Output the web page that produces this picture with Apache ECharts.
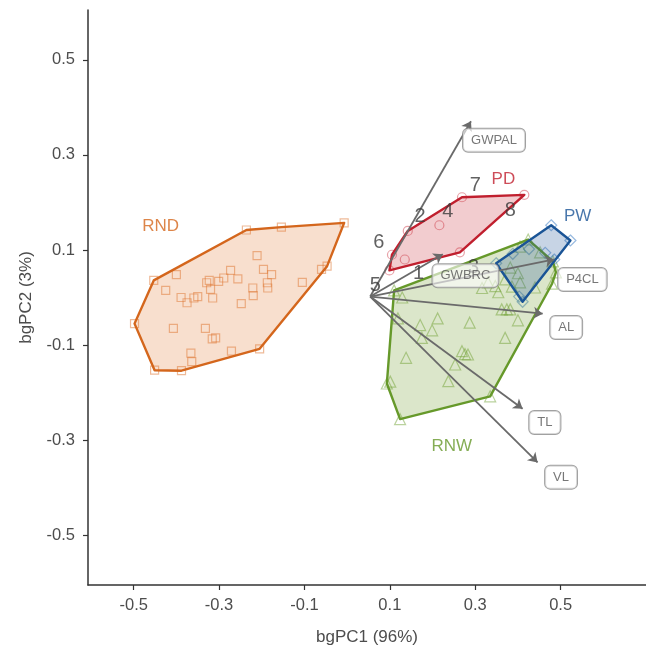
<!DOCTYPE html>
<html><head><meta charset="utf-8">
<script src="https://cdn.jsdelivr.net/npm/echarts@6/dist/echarts.min.js"></script>
<style>html,body{margin:0;padding:0;background:#fff}#c{width:646px;height:650px}</style>
</head><body><div id="c"></div>
<script>
// ---- data ----
const rndX = [-0.007,-0.154,-0.236,-0.211,-0.196,-0.177,-0.273,-0.289,-0.301,-0.323,-0.329,-0.256,-0.320,-0.315,-0.400,-0.453,-0.425,-0.389,-0.375,-0.359,-0.350,-0.221,-0.220,-0.187,-0.186,-0.105,-0.060,-0.047,-0.248,-0.498,-0.407,-0.332,-0.316,-0.308,-0.271,-0.205,-0.366,-0.364,-0.451,-0.388];
const rndY = [0.157,0.148,0.142,0.088,0.059,0.048,0.057,0.041,0.034,0.036,0.031,0.039,0.017,-0.001,0.048,0.036,0.015,0.000,-0.011,-0.001,0.002,0.020,0.004,0.031,0.020,0.032,0.059,0.066,-0.013,-0.055,-0.065,-0.065,-0.087,-0.085,-0.113,-0.108,-0.117,-0.135,-0.153,-0.154];
const rnwX = [0.424,0.482,0.489,0.480,0.335,0.124,0.093,0.110,0.129,0.119,0.212,0.171,0.199,0.175,0.287,0.362,0.374,0.382,0.400,0.370,0.138,0.269,0.276,0.283,0.253,0.237,0.101,0.316,0.347,0.382,0.400,0.370,0.330,0.354,0.386,0.405,0.440,0.405,0.452];
const rnwY = [0.122,0.076,0.053,0.029,-0.208,-0.256,-0.181,0.015,0.000,-0.044,-0.044,-0.058,-0.069,-0.085,-0.053,-0.025,-0.025,-0.025,-0.048,-0.085,-0.127,-0.113,-0.119,-0.120,-0.141,-0.176,-0.177,0.020,0.024,0.063,0.051,0.038,0.032,0.011,0.023,0.032,0.021,0.107,0.095];
const pdX = [0.415,0.269,0.142,0.216,0.105,0.135,0.264,0.099];
const pdY = [0.216,0.211,0.140,0.152,0.090,0.080,0.095,0.057];
const pwX = [0.478,0.523,0.388,0.426,0.464,0.485,0.411,0.349,0.403];
const pwY = [0.152,0.120,0.092,0.102,0.094,0.080,-0.009,0.072,0.002];

const arrowOrigin = [0.054, 0.002];
const arrowNames = ['GWPAL','GWBRC','P4CL','AL','TL','VL'];
const arrowTipX = [0.290,0.224,0.485,0.458,0.411,0.446];
const arrowTipY = [0.371,0.091,0.080,-0.034,-0.234,-0.347];
const arrowLabelX = [0.344,0.277,0.551,0.513,0.463,0.501];
const arrowLabelY = [0.331,0.046,0.038,-0.063,-0.263,-0.378];

const idLabels = ['5','6','2','4','7','8','1','3'];
const idX = [0.066,0.074,0.171,0.236,0.300,0.382,0.167,0.296];
const idY = [0.025,0.116,0.170,0.182,0.236,0.184,0.051,0.063];

const groupNames = ['RND','PD','PW','RNW'];
const groupLabelX = [-0.437,0.366,0.540,0.245];
const groupLabelY = [0.150,0.248,0.170,-0.313];

const xTicks = [-0.5,-0.3,-0.1,0.1,0.3,0.5];
const yTicks = [-0.5,-0.3,-0.1,0.1,0.3,0.5];

// ---- styles ----
const colors = {RND:'#D4661C', PD:'#C01F2E', PW:'#1A5496', RNW:'#66992A'};
const fills = {RND:'rgba(226,120,50,0.24)', PD:'rgba(200,40,55,0.24)', PW:'rgba(30,85,150,0.25)', RNW:'rgba(110,155,45,0.25)'};
const ptColors = {RND:'rgba(220,110,40,0.6)', PD:'rgba(200,40,55,0.55)', PW:'rgba(40,110,190,0.6)', RNW:'rgba(110,160,50,0.6)'};
const FONT = 'Liberation Sans';

function convexHull(pts){
  const p = pts.slice().sort((a,b)=>a[0]-b[0]||a[1]-b[1]);
  const cross=(o,a,b)=>(a[0]-o[0])*(b[1]-o[1])-(a[1]-o[1])*(b[0]-o[0]);
  const lower=[];for(const q of p){while(lower.length>=2&&cross(lower[lower.length-2],lower[lower.length-1],q)<=0)lower.pop();lower.push(q);}
  const upper=[];for(let i=p.length-1;i>=0;i--){const q=p[i];while(upper.length>=2&&cross(upper[upper.length-2],upper[upper.length-1],q)<=0)upper.pop();upper.push(q);}
  upper.pop();lower.pop();return lower.concat(upper);
}
function zip(xs,ys){return xs.map((x,i)=>[x,ys[i]]);}

function hullSeries(key, xs, ys){
  const pts = convexHull(zip(xs,ys));
  return {type:'custom', coordinateSystem:'cartesian2d', data:pts, encode:{x:0,y:1}, silent:true, z:3,
    renderItem:(params, api)=>{
      if(params.dataIndex!==0) return;
      return {type:'polygon', shape:{points:pts.map(q=>api.coord(q))},
        style:{fill:fills[key], stroke:colors[key], lineWidth:2.4, lineJoin:'round'}};
    }};
}
function pointSeries(key, xs, ys, symbol, size){
  return {type:'scatter', data:zip(xs,ys), symbol, symbolSize:size, silent:true, z:2,
    itemStyle:{color:'transparent', borderColor:ptColors[key], borderWidth:1.2}};
}
function textSeries(names, xs, ys, labelOpt, z){
  return {type:'scatter', symbolSize:1, silent:true, z, itemStyle:{color:'transparent'},
    data:names.map((n,i)=>({name:n, value:[xs[i],ys[i]]})),
    label:Object.assign({show:true, position:'inside', formatter:p=>p.name, fontFamily:FONT}, labelOpt)};
}

const series = [
  pointSeries('RND', rndX, rndY, 'rect', 8),
  pointSeries('RNW', rnwX, rnwY, 'triangle', 11),
  pointSeries('PD', pdX, pdY, 'circle', 9),
  pointSeries('PW', pwX, pwY, 'diamond', 11),
  hullSeries('RND', rndX, rndY),
  hullSeries('RNW', rnwX, rnwY),
  hullSeries('PD', pdX, pdY),
  hullSeries('PW', pwX, pwY),
  {type:'lines', coordinateSystem:'cartesian2d', silent:true, z:5,
   symbol:['none','arrow'], symbolSize:9,
   lineStyle:{color:'#6a6a6a', width:1.8, opacity:1},
   data:arrowNames.map((n,i)=>({coords:[arrowOrigin,[arrowTipX[i],arrowTipY[i]]]}))},
  textSeries(idLabels, idX, idY, {fontSize:20, color:'#3a3a3a'}, 6),
  textSeries(arrowNames, arrowLabelX, arrowLabelY, {fontSize:13, color:'#555',
    backgroundColor:'rgba(255,255,255,0.75)', borderColor:'#8a8a8a', borderWidth:1, borderRadius:5, padding:[5,8]}, 7),
];
groupNames.forEach((g,i)=>{
  series.push(textSeries([g],[groupLabelX[i]],[groupLabelY[i]],{fontSize:17, color:colors[g]},8));
});

const axisCommon = {
  type:'value', splitLine:{show:false},
  axisLine:{show:true, onZero:false, lineStyle:{color:'#333', width:1.5}},
  nameLocation:'middle',
  nameTextStyle:{fontSize:17, color:'#4d4d4d', fontFamily:FONT},
};
const chart = echarts.init(document.getElementById('c'));
chart.setOption({
  animation:false,
  backgroundColor:'#fff',
  grid:{left:88, right:0, top:10, bottom:65, containLabel:false, outerBoundsMode:'none'},
  xAxis:Object.assign({}, axisCommon, {min:-0.607, max:0.70, name:'bgPC1 (96%)', nameGap:44,
    axisTick:{show:true, length:5, customValues:xTicks, lineStyle:{color:'#333', width:1.2}},
    axisLabel:{customValues:xTicks, formatter:v=>Number(v).toFixed(1), fontSize:16.5, color:'#4d4d4d', margin:12, fontFamily:FONT}}),
  yAxis:Object.assign({}, axisCommon, {min:-0.605, max:0.605, name:'bgPC2 (3%)', nameGap:53,
    axisTick:{show:true, length:5, customValues:yTicks, lineStyle:{color:'#333', width:1.2}},
    axisLabel:{customValues:yTicks, formatter:v=>Number(v).toFixed(1), fontSize:16.5, color:'#4d4d4d', margin:13, fontFamily:FONT}}),
  series
});
</script></body></html>
